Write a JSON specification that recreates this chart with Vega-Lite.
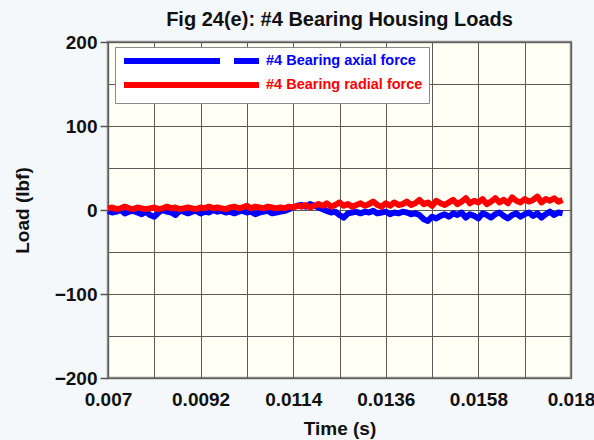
{
  "$schema": "https://vega.github.io/schema/vega-lite/v6.json",
  "autosize": "none",
  "width": 463,
  "height": 336,
  "padding": {"left": 108, "top": 42, "right": 23, "bottom": 62},
  "background": "#F4F8FB",
  "title": {
    "text": "Fig 24(e): #4 Bearing Housing Loads",
    "font": "Liberation Sans",
    "fontSize": 20,
    "fontWeight": "bold",
    "color": "#111",
    "anchor": "middle",
    "offset": 3
  },
  "config": {
    "view": {"fill": "#FFFFF3", "stroke": "#8a8a8a", "strokeWidth": 2.5},
    "axis": {
      "labelFont": "Liberation Sans",
      "labelFontSize": 19,
      "labelFontWeight": "bold",
      "labelColor": "#111",
      "titleFont": "Liberation Sans",
      "titleFontSize": 19,
      "titleFontWeight": "bold",
      "titleColor": "#111",
      "domain": false,
      "gridColor": "#5a5a5a",
      "gridWidth": 1,
      "gridOpacity": 1
    }
  },
  "datasets": {
    "d": [
      {"t":0.0070,"a":-1,"r":2},{"t":0.0071,"a":-3,"r":3},{"t":0.0072,"a":-2,"r":1},{"t":0.0073,"a":0,"r":2},{"t":0.0074,"a":-4,"r":4},
      {"t":0.0075,"a":-2,"r":2},{"t":0.0076,"a":-1,"r":1},{"t":0.0077,"a":-3,"r":3},{"t":0.0078,"a":-5,"r":2},{"t":0.0079,"a":-2,"r":1},
      {"t":0.0080,"a":-6,"r":2},{"t":0.0081,"a":-8,"r":3},{"t":0.0082,"a":-3,"r":1},{"t":0.0083,"a":0,"r":2},{"t":0.0084,"a":-2,"r":4},
      {"t":0.0085,"a":-3,"r":2},{"t":0.0086,"a":-6,"r":3},{"t":0.0087,"a":-1,"r":1},{"t":0.0088,"a":-2,"r":2},{"t":0.0089,"a":-4,"r":3},
      {"t":0.0090,"a":-2,"r":2},{"t":0.0091,"a":-1,"r":1},{"t":0.0092,"a":-4,"r":3},{"t":0.0093,"a":-2,"r":2},{"t":0.0094,"a":-3,"r":4},
      {"t":0.0095,"a":0,"r":2},{"t":0.0096,"a":-2,"r":3},{"t":0.0097,"a":-1,"r":2},{"t":0.0098,"a":-3,"r":1},{"t":0.0099,"a":-2,"r":3},
      {"t":0.0100,"a":-4,"r":4},{"t":0.0101,"a":-2,"r":2},{"t":0.0102,"a":-1,"r":3},{"t":0.0103,"a":-3,"r":5},{"t":0.0104,"a":-2,"r":2},
      {"t":0.0105,"a":-5,"r":4},{"t":0.0106,"a":-3,"r":3},{"t":0.0107,"a":-2,"r":2},{"t":0.0108,"a":-1,"r":4},{"t":0.0109,"a":-4,"r":3},
      {"t":0.0110,"a":-3,"r":2},{"t":0.0111,"a":-2,"r":3},{"t":0.0112,"a":-1,"r":2},{"t":0.0113,"a":1,"r":4},{"t":0.0114,"a":3,"r":3},
      {"t":0.0115,"a":5,"r":5},{"t":0.0116,"a":6,"r":4},{"t":0.0117,"a":4,"r":6},{"t":0.0118,"a":7,"r":3},{"t":0.0119,"a":5,"r":5},
      {"t":0.0120,"a":3,"r":7},{"t":0.0121,"a":1,"r":5},{"t":0.0122,"a":-1,"r":8},{"t":0.0123,"a":-3,"r":4},{"t":0.0124,"a":-2,"r":6},
      {"t":0.0125,"a":-6,"r":9},{"t":0.0126,"a":-9,"r":5},{"t":0.0127,"a":-4,"r":7},{"t":0.0128,"a":-3,"r":4},{"t":0.0129,"a":-2,"r":6},
      {"t":0.0130,"a":-4,"r":8},{"t":0.0131,"a":-2,"r":5},{"t":0.0132,"a":-3,"r":7},{"t":0.0133,"a":-1,"r":10},{"t":0.0134,"a":-4,"r":6},
      {"t":0.0135,"a":-3,"r":4},{"t":0.0136,"a":-2,"r":8},{"t":0.0137,"a":-5,"r":5},{"t":0.0138,"a":-3,"r":9},{"t":0.0139,"a":-4,"r":6},
      {"t":0.0140,"a":-2,"r":7},{"t":0.0141,"a":-3,"r":10},{"t":0.0142,"a":-5,"r":6},{"t":0.0143,"a":-4,"r":8},{"t":0.0144,"a":-6,"r":12},
      {"t":0.0145,"a":-11,"r":7},{"t":0.0146,"a":-13,"r":9},{"t":0.0147,"a":-8,"r":5},{"t":0.0148,"a":-10,"r":11},{"t":0.0149,"a":-7,"r":8},
      {"t":0.0150,"a":-5,"r":6},{"t":0.0151,"a":-8,"r":9},{"t":0.0152,"a":-4,"r":12},{"t":0.0153,"a":-6,"r":7},{"t":0.0154,"a":-3,"r":10},
      {"t":0.0155,"a":-9,"r":14},{"t":0.0156,"a":-5,"r":8},{"t":0.0157,"a":-7,"r":11},{"t":0.0158,"a":-10,"r":9},{"t":0.0159,"a":-4,"r":13},
      {"t":0.0160,"a":-6,"r":7},{"t":0.0161,"a":-9,"r":10},{"t":0.0162,"a":-5,"r":14},{"t":0.0163,"a":-3,"r":9},{"t":0.0164,"a":-7,"r":12},
      {"t":0.0165,"a":-10,"r":8},{"t":0.0166,"a":-6,"r":15},{"t":0.0167,"a":-4,"r":11},{"t":0.0168,"a":-8,"r":9},{"t":0.0169,"a":-5,"r":13},
      {"t":0.0170,"a":-3,"r":10},{"t":0.0171,"a":-7,"r":12},{"t":0.0172,"a":-4,"r":16},{"t":0.0173,"a":-9,"r":9},{"t":0.0174,"a":-5,"r":13},
      {"t":0.0175,"a":-2,"r":11},{"t":0.0176,"a":-6,"r":14},{"t":0.0177,"a":-3,"r":10},{"t":0.0178,"a":-4,"r":12}
    ]
  },
  "data": {"name": "d"},
  "transform": [{"fold": ["a", "r"], "as": ["series", "load"]}],
  "mark": {"type": "line", "strokeWidth": 6, "strokeCap": "butt", "strokeJoin": "round"},
  "encoding": {
    "x": {
      "field": "t",
      "type": "quantitative",
      "scale": {"domain": [0.007, 0.018], "nice": false, "zero": false},
      "axis": {
        "title": "Time (s)",
        "values": [0.007, 0.0081, 0.0092, 0.0103, 0.0114, 0.0125, 0.0136, 0.0147, 0.0158, 0.0169, 0.018],
        "format": ".4~g",
        "labelExpr": "(round(datum.value*10000) - 70) % 22 == 0 ? datum.label : ''",
        "tickSize": 0,
        "labelPadding": 12,
        "titlePadding": 10,
        "labelFlush": false,
        "labelOverlap": false
      }
    },
    "y": {
      "field": "load",
      "type": "quantitative",
      "scale": {"domain": [-200, 200], "nice": false},
      "axis": {
        "title": "Load (lbf)",
        "values": [-200, -150, -100, -50, 0, 50, 100, 150, 200],
        "labelExpr": "datum.value % 100 == 0 ? datum.label : ''",
        "tickSize": 8,
        "tickColor": {"condition": {"test": "datum.value % 100 != 0", "value": "transparent"}, "value": "#555"},
        "tickWidth": 1.5,
        "labelPadding": 3,
        "titlePadding": 22,
        "labelOverlap": false
      }
    },
    "color": {
      "field": "series",
      "type": "nominal",
      "scale": {"domain": ["a", "r"], "range": ["#0000FF", "#FF0000"]},
      "legend": {
        "title": null,
        "orient": "none",
        "legendX": 7,
        "legendY": 5,
        "direction": "vertical",
        "fillColor": "#FFFFFF",
        "strokeColor": "#888888",
        "padding": 6,
        "rowPadding": 0,
        "symbolType": "M-1,0H26",
        "symbolSize": 100,
        "symbolStrokeWidth": 6,
        "labelFont": "Liberation Sans",
        "labelFontSize": 14.5,
        "labelFontWeight": "bold",
        "labelOffset": 129,
        "labelExpr": "datum.label == 'a' ? '#4 Bearing axial force' : '#4 Bearing radial force'",
        "encode": {
          "labels": {"update": {"fill": {"signal": "datum.value == 'a' ? '#0000FF' : '#FF0000'"}}},
          "symbols": {"update": {"strokeDash": {"signal": "datum.value == 'a' ? [96, 14] : [1000, 0]"}}}
        }
      }
    }
  }
}
